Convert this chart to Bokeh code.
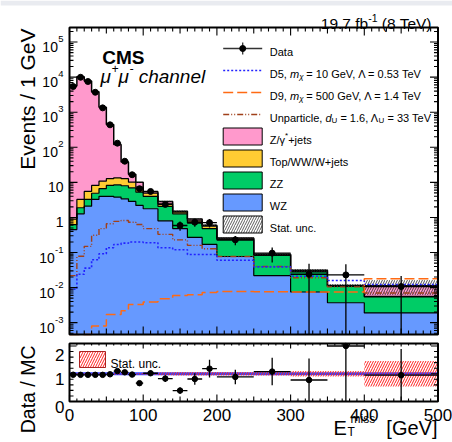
import numpy as np
from bokeh.plotting import figure
from bokeh.layouts import column
from bokeh.models import Range1d, LinearScale, Label
from bokeh.embed import file_html
from bokeh.resources import INLINE

FONT = "Liberation Sans"

# ---------------- data ----------------
edges = [0, 10, 20, 30, 40, 50, 60, 70, 80, 90, 100, 120, 140, 160, 180, 200, 250, 300, 350, 400, 500]
wz = [0.45, 1.27, 2.1, 3.26, 4.0, 4.0, 3.8, 3.4, 2.86, 2.2, 1.77, 0.8, 0.48, 0.27, 0.17, 0.077, 0.022, 0.0075, 0.0037, 0.0019]
zz = [0.17, 0.62, 1.16, 1.64, 2.6, 4.2, 4.7, 4.6, 4.14, 3.1, 2.23, 1.26, 0.79, 0.42, 0.31, 0.153, 0.061, 0.0205, 0.0071, 0.0035]
top_ww = [0.28, 1.37, 2.24, 3.3, 4.2, 4.5, 5.0, 4.7, 3.1, 2.0, 0.9, 0.39, 0.15, 0.11, 0.08, 0.015, 0.004, 0.001, 0.0002, 0.0002]
zjets = [5600, 10300, 7790, 3840, 1374, 433, 106, 25.3, 6.9, 2.7, 0.5, 0.4, 0.08, 0.1, 0.04, 0.015, 0.002, 0.002, 0.0005, 0.0057]
stat_rel = [0.02, 0.02, 0.02, 0.02, 0.02, 0.02, 0.03, 0.03, 0.03, 0.03, 0.04, 0.05, 0.06, 0.06, 0.06, 0.06, 0.06, 0.1, 0.1, 0.46]
data = [5400, 9900, 7500, 3700, 1330, 437, 131, 40, 16.5, 6.6, 5.5, 2.35, 0.59, 0.73, 0.71, 0.23, 0.096, 0.024, 0.023, 0.0107]
data_err = [23, 31.5, 27.4, 19.2, 11.5, 6.6, 3.6, 2.0, 1.28, 0.81, 0.52, 0.34, 0.17, 0.19, 0.19, 0.068, 0.044, 0.024, 0.023, 0.0107]
d5 = [0.009, 0.024, 0.036, 0.062, 0.092, 0.137, 0.17, 0.185, 0.2, 0.2, 0.19, 0.137, 0.12, 0.088, 0.088, 0.06, 0.039, 0.021, 0.016, 0.0123]
d9 = [0.0004, 0.0004, 0.0004, 0.0008, 0.0008, 0.0017, 0.0017, 0.0022, 0.0033, 0.0033, 0.0039, 0.0048, 0.006, 0.0063, 0.0072, 0.0078, 0.0076, 0.0075, 0.0075, 0.018]
unpart = [0.022, 0.078, 0.15, 0.31, 0.48, 0.66, 0.77, 0.82, 0.73, 0.63, 0.48, 0.33, 0.23, 0.16, 0.128, 0.077, 0.04, 0.019, 0.0105, 0.007]

x_major = [0, 100, 200, 300, 400, 500]
x_mid = [50, 150, 250, 350, 450]
x_minor = [v for v in range(10, 500, 10) if v % 50 != 0]
x_tick_labels = ["0", "100", "200", "300", "400", "500"]
y_major_exp = [-3, -2, -1, 0, 1, 2, 3, 4, 5]
ratio_major = [0, 1, 2]
ratio_minor = [0.2, 0.4, 0.6, 0.8, 1.2, 1.4, 1.6, 1.8]
ratio_labels = ["0", "1", "2"]

C_ZJ, C_TOP, C_ZZ, C_WZ = "#ff99cc", "#ffcc33", "#00cc66", "#6699ff"
C_D5, C_D9, C_UN = "#2222ff", "#ff6a13", "#a0401a"

# ---------------- page layout (pixels) ----------------
PW, H1, H2 = 452, 338, 103
BX0, BX1 = 69.0, 437.5          # plot boxes, left / right
B1T, B1B = 27.0, 334.0          # main box top / bottom
B2T, B2B = 343.0, 401.0         # ratio box top / bottom
XLO, XHI = 0.0, 500.0
YLO, YHI = 4.6e-4, 2.6e5
RLO, RHI = 0.0, 2.09

kx = (BX1 - BX0) / (XHI - XLO)
x_rng = (XLO - BX0 / kx, XHI + (PW - BX1) / kx)
dec = (np.log10(YHI) - np.log10(YLO)) / (B1B - B1T)
y1_rng = (10 ** (np.log10(YLO) - (H1 - B1B) * dec), 10 ** (np.log10(YHI) + B1T * dec))
kr = (RHI - RLO) / (B2B - B2T)
y2_rng = (RLO - (H1 + H2 - B2B) * kr, RHI + (B2T - H1) * kr)


def Y1(py):
    return H1 - py


def Y2(py):
    return H1 + H2 - py


# ---------------- helpers ----------------
E = np.array(edges, dtype=float)
left, right = E[:-1], E[1:]
center = 0.5 * (left + right)


def stepy(v):
    v = list(np.asarray(v, dtype=float))
    return v + [v[-1]]


W = {' ': 278, '(': 333, ')': 333, '*': 389, '+': 584, ',': 278, '-': 333, '.': 278, '/': 278,
     '=': 584, '[': 278, ']': 278, 'A': 667, 'B': 667, 'C': 722, 'D': 722, 'E': 667, 'F': 611,
     'G': 778, 'H': 722, 'I': 278, 'J': 500, 'K': 667, 'L': 556, 'M': 833, 'N': 722, 'O': 778,
     'P': 667, 'Q': 778, 'R': 722, 'S': 667, 'T': 611, 'U': 722, 'V': 667, 'W': 944, 'X': 667,
     'Y': 667, 'Z': 611, 'a': 556, 'b': 556, 'c': 500, 'd': 556, 'e': 556, 'f': 278, 'g': 556,
     'h': 556, 'i': 222, 'j': 222, 'k': 500, 'l': 222, 'm': 833, 'n': 556, 'o': 556, 'p': 556,
     'q': 556, 'r': 333, 's': 500, 't': 278, 'u': 556, 'v': 500, 'w': 722, 'x': 500, 'y': 500,
     'z': 500, 'μ': 576, 'γ': 500, 'χ': 520, 'Λ': 667}


def tw(t, s):
    return sum(W.get(c, 556) for c in t) * s / 1000.0


def lab(p, x, y, text, size, style="normal", align="left", xu="screen", yu="screen", yoff=0, angle=0.0):
    p.add_layout(Label(x=x, y=y, x_units=xu, y_units=yu, y_offset=yoff, text=text, angle=angle,
                       text_font=FONT, text_font_size=f"{size}px", text_font_style=style,
                       text_color="black", text_baseline="alphabetic", text_align=align))


def rich(p, x, y, segs, align="left"):
    total = sum(tw(t, s) for t, s, st, dy in segs)
    cx = x if align == "left" else x - total
    for t, s, st, dy in segs:
        lead = len(t) - len(t.lstrip(' '))
        txt = t.strip(' ')
        if txt:
            lab(p, cx + tw(' ' * lead, s), y + dy, txt, s, st)
        cx += tw(t, s)


def make_fig(h, yr, log=False):
    p = figure(title=None, width=PW, height=h, x_range=Range1d(*x_rng), y_range=Range1d(*yr),
               y_axis_type="log" if log else "linear", x_axis_location=None, y_axis_location=None,
               min_border=0, min_border_left=0, min_border_right=0, min_border_top=0,
               min_border_bottom=0, output_backend="svg", toolbar_location=None)
    p.xgrid.visible = False
    p.ygrid.visible = False
    p.outline_line_color = None
    p.background_fill_color = "white"
    p.border_fill_color = "white"
    p.extra_x_ranges = {"lx": Range1d(0, PW)}
    p.extra_y_ranges = {"ly": Range1d(0, h)}
    p.extra_x_scales = {"lx": LinearScale()}
    p.extra_y_scales = {"ly": LinearScale()}
    return p


PX = dict(x_range_name="lx", y_range_name="ly")


def xticks(p, ybot, ytop, lens_b, lens_t):
    for ticks, lb, lt in zip([x_minor, x_mid, x_major], lens_b, lens_t):
        t = np.array(ticks, dtype=float)
        n = len(t)
        if lb:
            p.segment(x0=t, x1=t, y0=np.full(n, ybot), y1=np.full(n, ybot + lb), y_range_name="ly",
                      line_color="black", line_width=1.1)
        if lt:
            p.segment(x0=t, x1=t, y0=np.full(n, ytop - lt), y1=np.full(n, ytop), y_range_name="ly",
                      line_color="black", line_width=1.1)


def yticks(p, major, minor, lmaj, lmin):
    for ticks, ln in [(minor, lmin), (major, lmaj)]:
        t = np.array(ticks, dtype=float)
        n = len(t)
        p.segment(x0=np.full(n, BX0), x1=np.full(n, BX0 + ln), y0=t, y1=t, x_range_name="lx",
                  line_color="black", line_width=1.1)
        p.segment(x0=np.full(n, BX1 - ln), x1=np.full(n, BX1), y0=t, y1=t, x_range_name="lx",
                  line_color="black", line_width=1.1)


# ---------------- main panel ----------------
p1 = make_fig(H1, y1_rng, log=True)
p1.quad(left=[0], right=[PW], bottom=[Y1(5)], top=[Y1(0)], fill_color="#e9ebf0", line_color=None, **PX)

c1 = np.array(wz)
c2 = c1 + np.array(zz)
c3 = c2 + np.array(top_ww)
c4 = c3 + np.array(zjets)
xs = list(E)
for lo, hi, col in [(np.full(len(c1), YLO), c1, C_WZ), (c1, c2, C_ZZ), (c2, c3, C_TOP), (c3, c4, C_ZJ)]:
    p1.varea_step(x=xs, y1=stepy(lo), y2=stepy(hi), step_mode="after", fill_color=col)
for hi, lw in [(c1, 1.2), (c2, 1.2), (c3, 1.2), (c4, 1.5)]:
    p1.step(x=xs, y=stepy(hi), mode="after", line_color="black", line_width=lw)

rel = np.array(stat_rel)
p1.quad(left=left, right=right, bottom=c4 * (1 - rel), top=c4 * (1 + rel), fill_alpha=0,
        line_color=None, hatch_pattern="/", hatch_color="#222222", hatch_scale=5, hatch_weight=0.8)

p1.step(x=xs, y=stepy(np.maximum(unpart, YLO)), mode="after", line_color=C_UN, line_width=1.4,
        line_dash="6 2 1 2 1 2")
p1.step(x=xs, y=stepy(np.maximum(d5, YLO)), mode="after", line_color=C_D5, line_width=1.6, line_dash="2 2")
p1.step(x=xs, y=stepy(np.maximum(d9, YLO)), mode="after", line_color=C_D9, line_width=1.5, line_dash="10 4")

dv = np.array(data)
de = np.array(data_err)
p1.segment(x0=center, x1=center, y0=np.maximum(dv - de, YLO), y1=dv + de, line_color="black", line_width=1.3)
p1.segment(x0=left, x1=right, y0=dv, y1=dv, line_color="black", line_width=1.3)
p1.scatter(x=center, y=dv, size=6, color="black")

# box, ticks, tick labels
y_major = [10.0 ** k for k in y_major_exp]
y_minor = [m * 10.0 ** k for k in range(-4, 6) for m in range(2, 10) if YLO <= m * 10.0 ** k <= YHI]
xticks(p1, Y1(B1B), Y1(B1T), (4, 6, 8), (4, 6, 8))
yticks(p1, y_major, y_minor, 8, 4)
p1.quad(left=[BX0], right=[BX1], bottom=[Y1(B1B)], top=[Y1(B1T)], fill_alpha=0, line_color="black",
        line_width=2, **PX)
for k, v in zip(y_major_exp, y_major):
    if k == 0:
        lab(p1, 63, v, "1", 14, align="right", yu="data", yoff=-5)
    elif k == 1:
        lab(p1, 63, v, "10", 14, align="right", yu="data", yoff=-5)
    else:
        e = str(k)
        we = tw(e, 9.5)
        lab(p1, 63 - we, v, e, 9.5, yu="data", yoff=3)
        lab(p1, 63 - we - 0.3, v, "10", 14, align="right", yu="data", yoff=-5)

# legend
sx0, sx1 = 222.7, 261.7
sxc = 0.5 * (sx0 + sx1)
rows = [Y1(v) for v in [48, 70, 92, 114, 136, 158, 180, 202, 224]]
tx = 269.3
fs = 11
p1.segment(x0=[sx0], x1=[sx1], y0=[rows[0]], y1=[rows[0]], line_color="#333333", line_width=1.3, **PX)
p1.segment(x0=[sxc], x1=[sxc], y0=[rows[0] - 6], y1=[rows[0] + 6], line_color="#333333", line_width=1.3, **PX)
p1.scatter(x=[sxc], y=[rows[0]], size=6, color="black", **PX)
p1.line(x=[sx0, sx1], y=[rows[1], rows[1]], line_color=C_D5, line_width=1.6, line_dash="2 2", **PX)
p1.line(x=[sx0, sx1], y=[rows[2], rows[2]], line_color=C_D9, line_width=1.5, line_dash="10 4", **PX)
p1.line(x=[sx0, sx1], y=[rows[3], rows[3]], line_color=C_UN, line_width=1.4, line_dash="6 2 1 2 1 2", **PX)
for r, col in zip(rows[4:8], [C_ZJ, C_TOP, C_ZZ, C_WZ]):
    p1.quad(left=[sx0], right=[sx1], bottom=[r - 8.5], top=[r + 8.5], fill_color=col,
            line_color="black", line_width=1, **PX)
p1.quad(left=[sx0], right=[sx1], bottom=[rows[8] - 8.5], top=[rows[8] + 8.5], fill_color="white",
        line_color="black", line_width=1, hatch_pattern="/", hatch_color="#333333", hatch_scale=5,
        hatch_weight=0.8, **PX)

leg_texts = [
    [("Data", fs, "normal", 0)],
    [("D5, ", fs, "normal", 0), ("m", fs, "italic", 0), ("χ", 8, "italic", -2.5),
     (" = 10 GeV, Λ = 0.53 TeV", fs, "normal", 0)],
    [("D9, ", fs, "normal", 0), ("m", fs, "italic", 0), ("χ", 8, "italic", -2.5),
     (" = 500 GeV, Λ = 1.4 TeV", fs, "normal", 0)],
    [("Unparticle, ", fs, "normal", 0), ("d", fs, "italic", 0), ("U", 8, "normal", -2.5),
     (" = 1.6, Λ", fs, "normal", 0), ("U", 8, "normal", -2.5), (" = 33 TeV", fs, "normal", 0)],
    [("Z/γ", fs, "normal", 0), ("*", 8, "normal", 4), ("+jets", fs, "normal", 0)],
    [("Top/WW/W+jets", fs, "normal", 0)],
    [("ZZ", fs, "normal", 0)],
    [("WZ", fs, "normal", 0)],
    [("Stat. unc.", fs, "normal", 0)],
]
for r, segs in zip(rows, leg_texts):
    rich(p1, tx, r - 3, segs)

rich(p1, 101.7, Y1(57), [("CMS", 19, "bold", 0)])
rich(p1, 100, Y1(75.7), [("μ", 19, "italic", 0), ("+", 12, "italic", 8), ("μ", 19, "italic", 0),
                         ("-", 12, "italic", 8), (" channel", 19, "italic", 0)])
rich(p1, 433, Y1(23), [("19.7 fb", 15.5, "normal", 0), ("-1", 10.5, "normal", 6),
                       (" (8 TeV)", 15.5, "normal", 0)], align="right")
lab(p1, 27, Y1(28), "Events / 1 GeV", 21, align="right", angle=np.pi / 2)

# ---------------- ratio panel ----------------
p2 = make_fig(H2, y2_rng)

p2.segment(x0=[XLO], x1=[XHI], y0=[1.0], y1=[1.0], line_color="#3344ff", line_width=3)
p2.quad(left=left, right=right, bottom=1 - rel, top=1 + rel, fill_alpha=0, line_color=None,
        hatch_pattern="/", hatch_color="#ff2020", hatch_scale=5, hatch_weight=1)

ratio = dv / c4
rerr = de / c4
p2.segment(x0=center, x1=center, y0=np.clip(ratio - rerr, RLO, RHI), y1=np.clip(ratio + rerr, RLO, RHI),
           line_color="black", line_width=1.3)
p2.segment(x0=left, x1=right, y0=ratio, y1=ratio, line_color="black", line_width=1.3)
p2.scatter(x=center, y=ratio, size=5.5, color="black")

xticks(p2, Y2(B2B), Y2(B2T), (3, 5, 7), (2, 3, 5))
yticks(p2, ratio_major, ratio_minor, 7, 4)
p2.quad(left=[BX0], right=[BX1], bottom=[Y2(B2B)], top=[Y2(B2T)], fill_alpha=0, line_color="black",
        line_width=2, **PX)
for v, t in zip(x_major, x_tick_labels):
    lab(p2, v, Y2(414), t, 17, align="center", xu="data")
for v, t in zip(ratio_major, ratio_labels):
    lab(p2, 64, v, t, 17, align="right", yu="data", yoff=-5 if v < 2 else -9)

p2.quad(left=[79], right=[105], bottom=[Y2(367)], top=[Y2(351)], fill_color="white", line_color="#aa2222",
        line_width=1, hatch_pattern="/", hatch_color="#ff2020", hatch_scale=5, hatch_weight=1, **PX)
rich(p2, 110, Y2(363), [("Stat. unc.", 12, "normal", 0)])

lab(p2, 27, Y2(345), "Data / MC", 19.5, align="right", angle=np.pi / 2)
lab(p2, 333, Y2(427), "E", 20)
lab(p2, 347, Y2(431), "T", 12)
lab(p2, 350, Y2(418), "miss", 12)
lab(p2, 437, Y2(427), "[GeV]", 20, align="right")

layout = column(p1, p2, spacing=0)
open("out.html", "w").write(file_html(layout, INLINE))
